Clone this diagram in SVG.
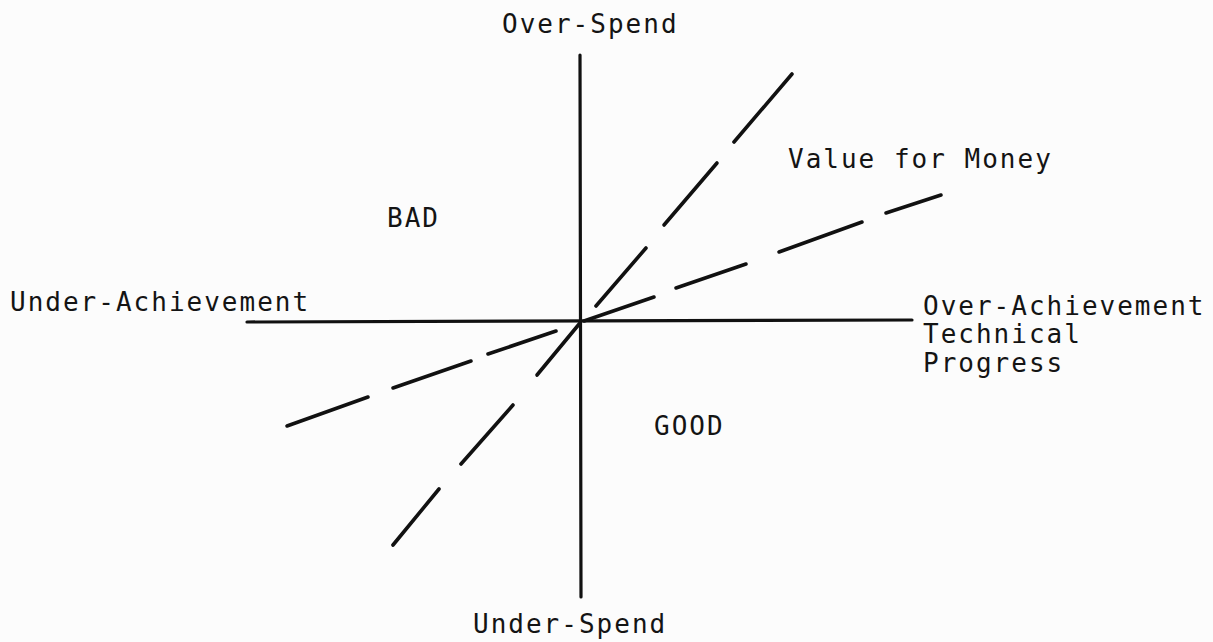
<svg xmlns="http://www.w3.org/2000/svg" width="1213" height="642" viewBox="0 0 1213 642">
<style>
text{font-family:"DejaVu Sans Mono","Liberation Mono",monospace;font-size:26px;letter-spacing:2px;fill:#141414}
.axis{stroke:#111;stroke-width:3.2;stroke-linecap:round;fill:none}
.dash{stroke:#111;stroke-width:3.6;stroke-linecap:round;fill:none}
</style>
<rect width="1213" height="642" fill="#fcfcfc"/>
<g id="connectors">
<line class="axis" x1="580" y1="55" x2="581" y2="597"/>
<line class="axis" x1="247" y1="322" x2="912" y2="320"/>
<g id="steep-line">
<line class="dash" x1="792" y1="74" x2="734" y2="142"/>
<line class="dash" x1="717" y1="163" x2="664" y2="225"/>
<line class="dash" x1="646" y1="248" x2="596" y2="306"/>
<line class="dash" x1="580" y1="323" x2="537" y2="375"/>
<line class="dash" x1="513" y1="405" x2="461" y2="464"/>
<line class="dash" x1="439" y1="489" x2="393" y2="545"/>
</g>
<g id="shallow-line">
<line class="dash" x1="941" y1="195" x2="886" y2="213"/>
<line class="dash" x1="862" y1="222" x2="779" y2="252"/>
<line class="dash" x1="746" y1="264" x2="676" y2="288"/>
<line class="dash" x1="654" y1="297" x2="584" y2="321"/>
<line class="dash" x1="556" y1="331" x2="488" y2="354"/>
<line class="dash" x1="471" y1="361" x2="393" y2="388"/>
<line class="dash" x1="368" y1="397" x2="287" y2="426"/>
</g>
</g>
<g id="label-over-spend"><text x="502" y="33">Over-Spend</text></g>
<g id="label-under-spend"><text x="473" y="633">Under-Spend</text></g>
<g id="label-under-achievement"><text x="10" y="311">Under-Achievement</text></g>
<g id="label-over-achievement"><text x="923" y="315">Over-Achievement</text><text x="923" y="343">Technical</text><text x="923" y="372">Progress</text></g>
<g id="label-value"><text x="788" y="168">Value for Money</text></g>
<g id="label-bad"><text x="387" y="227">BAD</text></g>
<g id="label-good"><text x="654" y="435">GOOD</text></g>
</svg>
